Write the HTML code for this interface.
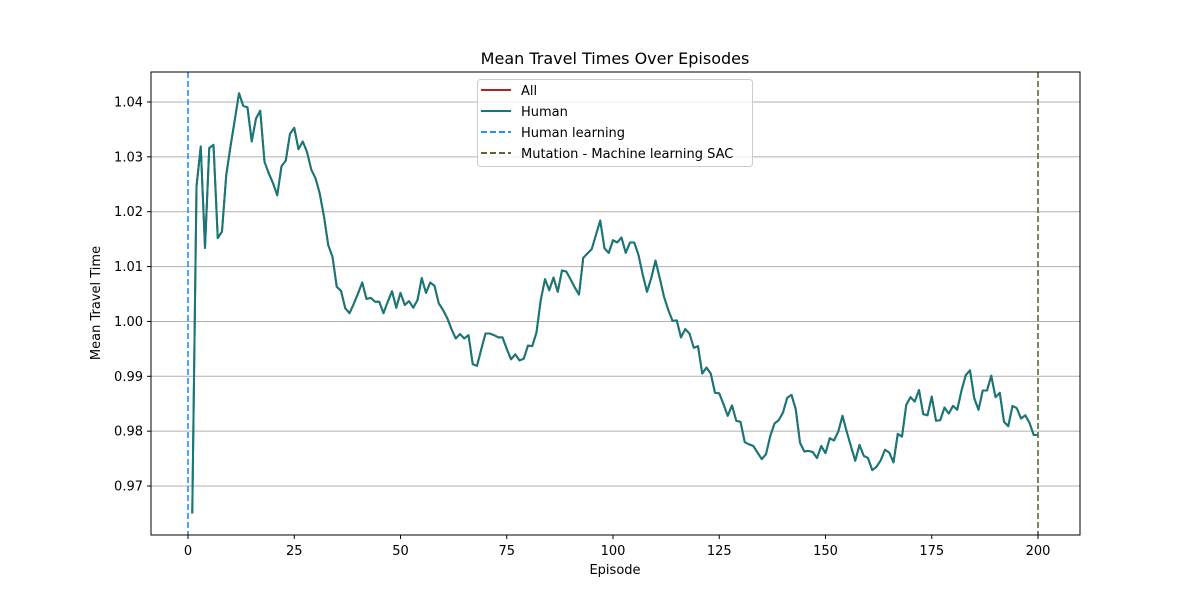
<!DOCTYPE html>
<html><head><meta charset="utf-8"><style>
html,body{margin:0;padding:0;background:#fff;}
svg{display:block;font-family:"DejaVu Sans","Liberation Sans",sans-serif;}
</style></head><body>
<svg id="chart" width="1200" height="600" xmlns="http://www.w3.org/2000/svg">
<rect width="1200" height="600" fill="#fff"/>
<text x="615" y="64" font-size="16" text-anchor="middle" fill="#000">Mean Travel Times Over Episodes</text>
<g id="grid"></g>
<g id="marks"></g>
<rect x="151" y="72" width="929" height="463" fill="none" stroke="#000" stroke-width="1"/>
<g id="ticks"></g>
<text x="615" y="574" font-size="13" text-anchor="middle">Episode</text>
<text transform="translate(100,303) rotate(-90)" font-size="13" text-anchor="middle">Mean Travel Time</text>
<g>
<rect x="477.5" y="79.5" width="275" height="87" rx="3" fill="#fff" fill-opacity="0.8" stroke="#ccc"/>
<g><line x1="481" y1="90" x2="511" y2="90" stroke="#b22222" stroke-width="2"/><text x="521" y="95" font-size="13">All</text></g>
<g><line x1="481" y1="111" x2="511" y2="111" stroke="#117a7a" stroke-width="2"/><text x="521" y="116" font-size="13">Human</text></g>
<g><line x1="481" y1="132" x2="511" y2="132" stroke="#1e90ff" stroke-width="2" stroke-dasharray="6,3"/><text x="521" y="137" font-size="13">Human learning</text></g>
<g><line x1="481" y1="153" x2="511" y2="153" stroke="#556b2f" stroke-width="2" stroke-dasharray="6,3"/><text x="521" y="158" font-size="13">Mutation - Machine learning SAC</text></g>
</g>
</svg>
<script>
const humanValues = [0.965,1.0246,1.0319,1.0134,1.0316,1.0322,1.0152,1.0164,1.0267,1.0319,
1.0367,1.0416,1.0393,1.039,1.0328,1.037,1.0384,1.0291,1.027,1.0252,
1.023,1.0283,1.0293,1.0342,1.0353,1.0314,1.0328,1.0309,1.0277,1.0261,
1.0233,1.0191,1.0139,1.0118,1.0063,1.0056,1.0024,1.0015,1.0032,1.0051,
1.0071,1.0041,1.0043,1.0036,1.0036,1.0015,1.0036,1.0055,1.0025,1.0052,
1.0030,1.0037,1.0025,1.0039,1.0079,1.0052,1.0071,1.0065,1.0033,1.0021,
1.0006,0.9986,0.9969,0.9977,0.9969,0.9975,0.9922,0.9919,0.9949,0.9978,
0.9978,0.9975,0.9971,0.9971,0.9950,0.9931,0.9940,0.9929,0.9932,0.9956,
0.9955,0.9980,1.0039,1.0077,1.0057,1.0080,1.0054,1.0093,1.0091,1.0077,
1.0062,1.0049,1.0116,1.0124,1.0132,1.0158,1.0184,1.0133,1.0125,1.0148,
1.0144,1.0153,1.0125,1.0144,1.0144,1.0121,1.0085,1.0054,1.0079,1.0111,
1.0079,1.0045,1.0021,1.0001,1.0002,0.9971,0.9986,0.9978,0.9952,0.9955,
0.9905,0.9916,0.9905,0.9870,0.9869,0.9849,0.9828,0.9847,0.9819,0.9817,
0.9780,0.9776,0.9773,0.9761,0.9749,0.9758,0.9791,0.9814,0.9820,0.9834,
0.9861,0.9866,0.9840,0.9779,0.9763,0.9764,0.9762,0.9751,0.9773,0.9760,
0.9787,0.9783,0.9799,0.9828,0.9799,0.9772,0.9746,0.9775,0.9755,0.9751,
0.9729,0.9735,0.9747,0.9766,0.9761,0.9743,0.9795,0.9790,0.9848,0.9862,
0.9854,0.9875,0.9831,0.9829,0.9863,0.9819,0.9820,0.9843,0.9832,0.9846,
0.9839,0.9874,0.9902,0.9911,0.9860,0.9839,0.9874,0.9874,0.9901,0.9862,
0.9870,0.9817,0.9809,0.9846,0.9842,0.9823,0.9829,0.9815,0.9793,0.9793];
const firstEpisode = 1;
const xTicks = [0,25,50,75,100,125,150,175,200];
const yTicks = [0.97,0.98,0.99,1.00,1.01,1.02,1.03,1.04];
const yTickLabels = ["0.97","0.98","0.99","1.00","1.01","1.02","1.03","1.04"];
const vlineHuman = 0;
const vlineMutation = 200;

const NS = "http://www.w3.org/2000/svg";
function xs(e){ return 188 + (e - 0) * (1038 - 188) / 200; }
function ys(v){ return 102 + (1.04 - v) * 5486; }
function mk(tag, attrs, parent){
  const el = document.createElementNS(NS, tag);
  for (const k in attrs) el.setAttribute(k, attrs[k]);
  parent.appendChild(el);
  return el;
}
const grid = document.getElementById('grid');
const ticks = document.getElementById('ticks');
const marks = document.getElementById('marks');
yTicks.forEach((t, i) => {
  const y = ys(t);
  const g = mk('line', {x1:151, x2:1080, y1:y, y2:y, stroke:'#b0b0b0', 'stroke-width':1}, grid);
  
  
  mk('line', {x1:147, x2:151, y1:y, y2:y, stroke:'#000'}, ticks);
  const tx = mk('text', {x:143, y:y+4.5, 'font-size':13, 'text-anchor':'end'}, ticks);
  tx.textContent = yTickLabels[i];
  
  
});
xTicks.forEach(t => {
  const x = xs(t);
  mk('line', {x1:x, x2:x, y1:535, y2:539, stroke:'#000'}, ticks);
  const tx = mk('text', {x:x, y:555, 'font-size':13, 'text-anchor':'middle'}, ticks);
  tx.textContent = String(t);
  
  
});
const pts = humanValues.map((v, i) => xs(firstEpisode + i).toFixed(2) + ',' + ys(v).toFixed(2)).join(' ');
const allLine = mk('polyline', {points:pts, fill:'none', stroke:'#b22222', 'stroke-width':2, 'stroke-linejoin':'round'}, marks);


const hLine = mk('polyline', {points:pts, fill:'none', stroke:'#117a7a', 'stroke-width':2, 'stroke-linejoin':'round'}, marks);


const v1 = mk('line', {x1:xs(vlineHuman), x2:xs(vlineHuman), y1:72, y2:535, stroke:'#1e90ff', 'stroke-width':1.6, 'stroke-dasharray':'6,3'}, marks);


const v2 = mk('line', {x1:xs(vlineMutation), x2:xs(vlineMutation), y1:72, y2:535, stroke:'#556b2f', 'stroke-width':1.6, 'stroke-dasharray':'6,3'}, marks);


</script>
</body></html>
